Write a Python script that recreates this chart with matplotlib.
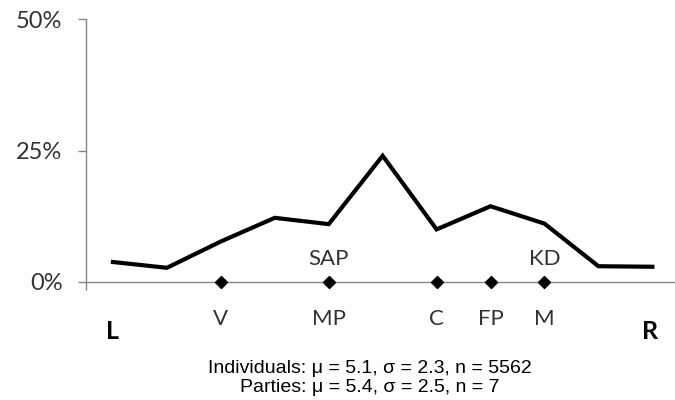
import matplotlib.pyplot as plt
from matplotlib.ticker import PercentFormatter

# distribution of individuals on the left-right scale (0..10), in percent
scale_pos = [0, 1, 2, 3, 4, 5, 6, 7, 8, 9, 10]
share = [3.8, 2.7, 7.7, 12.2, 11.0, 24.0, 10.0, 14.4, 11.1, 3.0, 2.9]

# party positions (labels under the axis, and the ones written above)
party_below = ['V', 'MP', 'C', 'FP', 'M']
party_below_pos = [2, 4, 6, 7, 8]
party_above = ['SAP', 'KD']
party_above_pos = [4, 8]

note1 = 'Individuals: \u03bc = 5.1, \u03c3 = 2.3, n = 5562'
note2 = 'Parties: \u03bc = 5.4, \u03c3 = 2.5, n = 7'

lbl_font = ['Lato', 'DejaVu Sans']
note_font = ['Liberation Sans', 'DejaVu Sans']

fig = plt.figure(figsize=(6.75, 4), dpi=100)
ax = fig.add_axes([0.1274, 0.295, 0.8726, 0.6575])

ax.plot(scale_pos, share, color='black', lw=3, solid_joinstyle='miter', zorder=3)
ax.plot(party_below_pos, [0] * len(party_below_pos), ls='none', marker='D',
        ms=6, color='black', clip_on=False, zorder=4)

ax.set_xlim(-0.5, 10.42)
ax.set_ylim(0, 50)
ax.set_yticks([0, 25, 50])
ax.yaxis.set_major_formatter(PercentFormatter(decimals=0))
ax.set_xticks([-0.5])
ax.set_xticklabels([''])

grey = '#868686'
for s in ['top', 'right']:
    ax.spines[s].set_visible(False)
for s in ['left', 'bottom']:
    ax.spines[s].set_color(grey)
    ax.spines[s].set_linewidth(1)
ax.tick_params(axis='both', color=grey, length=6, width=1)
ax.tick_params(axis='y', labelsize=17, labelcolor='#333333', pad=11)
for t in ax.get_yticklabels():
    t.set_family(lbl_font)

for name, p in zip(party_below, party_below_pos):
    ax.annotate(name, (p, 0), xytext=(0, -43), textcoords='offset pixels',
                ha='center', va='baseline', fontsize=16, family=lbl_font,
                color='#333333', annotation_clip=False)
for name, p in zip(party_above, party_above_pos):
    ax.annotate(name, (p, 0), xytext=(0, 17), textcoords='offset pixels',
                ha='center', va='baseline', fontsize=16, family=lbl_font,
                color='#333333', annotation_clip=False)

ax.annotate('L', (scale_pos[0], 0), xytext=(0, -57), textcoords='offset pixels',
            ha='center', va='baseline', fontsize=18, fontweight='bold',
            family=lbl_font, annotation_clip=False)
ax.annotate('R', (scale_pos[-1], 0), xytext=(-2, -57), textcoords='offset pixels',
            ha='center', va='baseline', fontsize=18, fontweight='bold',
            family=lbl_font, annotation_clip=False)

fig.text(370 / 675, 1 - 373 / 400, note1, ha='center', va='baseline',
         fontsize=14, family=note_font)
fig.text(370 / 675, 1 - 392 / 400, note2, ha='center', va='baseline',
         fontsize=14, family=note_font)

fig.savefig('out.png', dpi=100)
